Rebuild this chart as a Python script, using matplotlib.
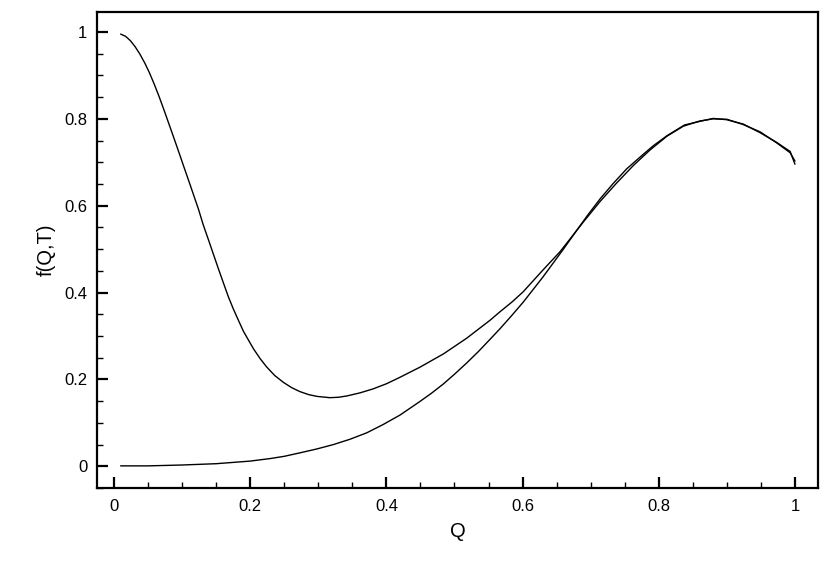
import numpy as np
import matplotlib.pyplot as plt
from matplotlib.ticker import MultipleLocator

# curve starting at f=1 (dips, then rises to the peak)
q_a = [0.010, 0.017, 0.024, 0.031, 0.038, 0.045, 0.052, 0.059, 0.066, 0.073,
       0.080, 0.087, 0.095, 0.102, 0.110, 0.117, 0.124, 0.131, 0.139, 0.146,
       0.153, 0.160, 0.165, 0.168, 0.175, 0.183, 0.190, 0.198, 0.205, 0.215,
       0.224, 0.236, 0.249, 0.261, 0.273, 0.286, 0.298, 0.317, 0.330, 0.342,
       0.361, 0.380, 0.400, 0.420, 0.449, 0.484, 0.518, 0.552, 0.567, 0.585,
       0.601, 0.630, 0.655, 0.672, 0.689, 0.714, 0.738, 0.763, 0.787, 0.812,
       0.836, 0.860, 0.880, 0.900, 0.924, 0.949, 0.973, 0.993, 1.000]
f_a = [0.995, 0.990, 0.980, 0.966, 0.949, 0.929, 0.906, 0.880, 0.852, 0.822,
       0.791, 0.760, 0.724, 0.692, 0.656, 0.624, 0.592, 0.556, 0.520, 0.488,
       0.456, 0.425, 0.403, 0.390, 0.363, 0.335, 0.311, 0.289, 0.270, 0.247,
       0.229, 0.209, 0.193, 0.181, 0.172, 0.165, 0.161, 0.158, 0.159, 0.162,
       0.169, 0.178, 0.190, 0.205, 0.228, 0.259, 0.295, 0.336, 0.356, 0.379,
       0.402, 0.452, 0.494, 0.528, 0.562, 0.610, 0.652, 0.693, 0.728, 0.760,
       0.783, 0.795, 0.800, 0.799, 0.787, 0.770, 0.745, 0.722, 0.703]

# curve starting at f=0
q_b = [0.010, 0.050, 0.100, 0.150, 0.200, 0.230, 0.250, 0.273, 0.298, 0.322,
       0.346, 0.371, 0.395, 0.420, 0.449, 0.466, 0.484, 0.500, 0.518, 0.535,
       0.552, 0.567, 0.584, 0.601, 0.616, 0.630, 0.645, 0.660, 0.679, 0.696,
       0.714, 0.733, 0.753, 0.777, 0.792, 0.812, 0.838, 0.860, 0.880, 0.900,
       0.924, 0.949, 0.973, 0.993, 1.000]
f_b = [0.001, 0.001, 0.003, 0.006, 0.012, 0.018, 0.023, 0.031, 0.040, 0.050,
       0.062, 0.077, 0.096, 0.118, 0.149, 0.168, 0.190, 0.212, 0.238, 0.264,
       0.292, 0.317, 0.347, 0.378, 0.408, 0.436, 0.468, 0.500, 0.542, 0.579,
       0.616, 0.651, 0.685, 0.718, 0.738, 0.761, 0.786, 0.794, 0.801, 0.798,
       0.788, 0.768, 0.746, 0.725, 0.696]

plt.rcParams['font.family'] = ['Liberation Sans', 'DejaVu Sans']

fig = plt.figure(figsize=(8.3, 5.86), dpi=100)
ax = fig.add_axes([0.1169, 0.1672, 0.8687, 0.8123])

ax.plot(q_a, f_a, color='black', lw=1.0)
ax.plot(q_b, f_b, color='black', lw=1.0)

ax.set_xlim(-0.025, 1.034)
ax.set_ylim(-0.05, 1.046)

ax.xaxis.set_major_locator(MultipleLocator(0.2))
ax.xaxis.set_minor_locator(MultipleLocator(0.05))
ax.yaxis.set_major_locator(MultipleLocator(0.2))
ax.yaxis.set_minor_locator(MultipleLocator(0.05))
ax.xaxis.set_major_formatter(plt.FuncFormatter(lambda v, p: f'{v:g}'))
ax.yaxis.set_major_formatter(plt.FuncFormatter(lambda v, p: f'{v:g}'))

ax.tick_params(which='both', direction='in', top=False, right=False, labelsize=12)
ax.tick_params(which='major', length=8, width=1.6)
ax.tick_params(which='minor', length=4, width=1.0)
ax.tick_params(axis='x', which='major', pad=8)
ax.tick_params(axis='y', which='major', pad=7)

for s in ax.spines.values():
    s.set_linewidth(1.6)

ax.set_xlabel('Q', fontsize=14.5, labelpad=6)
ax.set_ylabel('f(Q,T)', fontsize=14.5, labelpad=6)

fig.savefig('out.png', dpi=100)
